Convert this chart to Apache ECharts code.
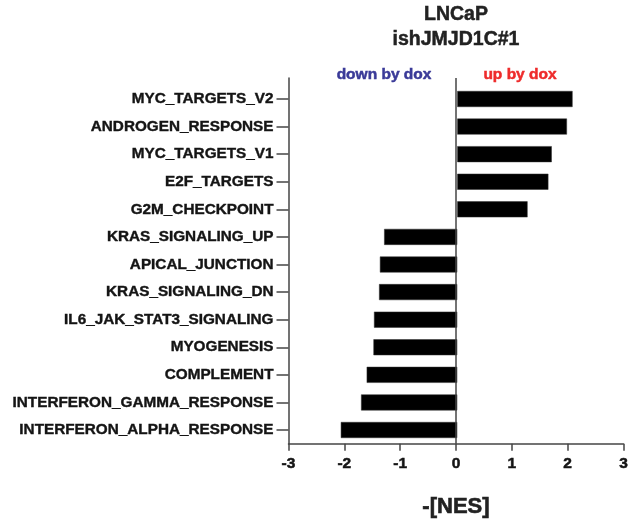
<!DOCTYPE html>
<html>
<head>
<meta charset="utf-8">
<script src="https://cdn.jsdelivr.net/npm/echarts@6/dist/echarts.min.js"></script>
<style>html,body{margin:0;padding:0;background:#fff}#c{width:631px;height:523px}</style>
</head>
<body>
<div id="c"></div>
<script>
const categories = [
  'MYC_TARGETS_V2','ANDROGEN_RESPONSE','MYC_TARGETS_V1','E2F_TARGETS','G2M_CHECKPOINT',
  'KRAS_SIGNALING_UP','APICAL_JUNCTION','KRAS_SIGNALING_DN','IL6_JAK_STAT3_SIGNALING',
  'MYOGENESIS','COMPLEMENT','INTERFERON_GAMMA_RESPONSE','INTERFERON_ALPHA_RESPONSE'
];
const nesValues = [2.05, 1.95, 1.68, 1.62, 1.25, -1.30, -1.375, -1.39, -1.48, -1.49, -1.61, -1.71, -2.07];
const xTicks = [-3, -2, -1, 0, 1, 2, 3];
const titleLines = ['LNCaP', 'ishJMJD1C#1'];
const xName = '-[NES]';

const FONT = '"Liberation Sans", Arial, sans-serif';
const AX = '#454545';
const TXT = '#141414';
const chart = echarts.init(document.getElementById('c'), null, {renderer: 'canvas'});
function gtext(x, y, text, size, color) {
  return {type: 'text', x: x, y: y, style: {text: text, font: 'bold ' + size + 'px ' + FONT, fill: color,
    stroke: color, lineWidth: 0.5, textAlign: 'center', textVerticalAlign: 'middle'}};
}
chart.setOption({
  animation: false,
  backgroundColor: '#fff',
  graphic: [
    gtext(456, 15, titleLines[0], 19.5, '#222'),
    gtext(456, 40, titleLines[1], 19.5, '#222'),
    gtext(384, 75, 'down by dox', 15.5, '#3a3a98'),
    gtext(520, 75, 'up by dox', 15.5, '#ee2b2b')
  ],
  grid: [
    {left: 288.5, width: 337.5, top: 85.2, height: 358.6, containLabel: false},
    {left: 288.5, width: 337.5, top: 78, height: 370, containLabel: false}
  ],
  xAxis: [
    {gridIndex: 0, type: 'value', min: -3, max: 3, interval: 1, show: false},
    {gridIndex: 1, type: 'value', min: -3, max: 3, interval: 1,
      axisLine: {show: true, onZero: false, lineStyle: {color: AX, width: 1.5}},
      axisTick: {show: true, inside: false, length: 7, lineStyle: {color: AX, width: 1.5}},
      axisLabel: {show: true, margin: 12.5, color: TXT, fontFamily: FONT, fontWeight: 'bold', fontSize: 15.5,
        textBorderColor: TXT, textBorderWidth: 0.5, customValues: xTicks},
      splitLine: {show: false},
      name: xName, nameLocation: 'middle', nameGap: 52,
      nameTextStyle: {color: '#222', fontFamily: FONT, fontWeight: 'bold', fontSize: 22,
        textBorderColor: '#222', textBorderWidth: 0.6}
    }
  ],
  yAxis: [
    {gridIndex: 0, type: 'category', inverse: true, data: categories,
      axisLine: {show: false, onZero: false},
      axisTick: {show: true, alignWithLabel: true, length: 12, lineStyle: {color: AX, width: 1.5}},
      axisLabel: {show: true, margin: 15, color: TXT, fontFamily: FONT, fontWeight: 'bold', fontSize: 15.3,
        textBorderColor: TXT, textBorderWidth: 0.4},
      splitLine: {show: false}
    },
    {gridIndex: 1, type: 'value', min: 0, max: 1,
      axisLine: {show: true, onZero: false, lineStyle: {color: AX, width: 1.5}},
      axisTick: {show: false}, axisLabel: {show: false}, splitLine: {show: false}
    }
  ],
  series: [
    {type: 'bar', xAxisIndex: 0, yAxisIndex: 0, data: nesValues, barWidth: 16,
      itemStyle: {color: '#000', borderColor: '#333', borderWidth: 0.5}},
    {type: 'scatter', xAxisIndex: 1, yAxisIndex: 1, data: [[0, 0.5]], symbolSize: 0, silent: true,
      markLine: {silent: true, symbol: ['none', 'none'], label: {show: false},
        lineStyle: {color: AX, width: 1.5, type: 'solid'},
        data: [{xAxis: 0}]}}
  ]
});
</script>
</body>
</html>
